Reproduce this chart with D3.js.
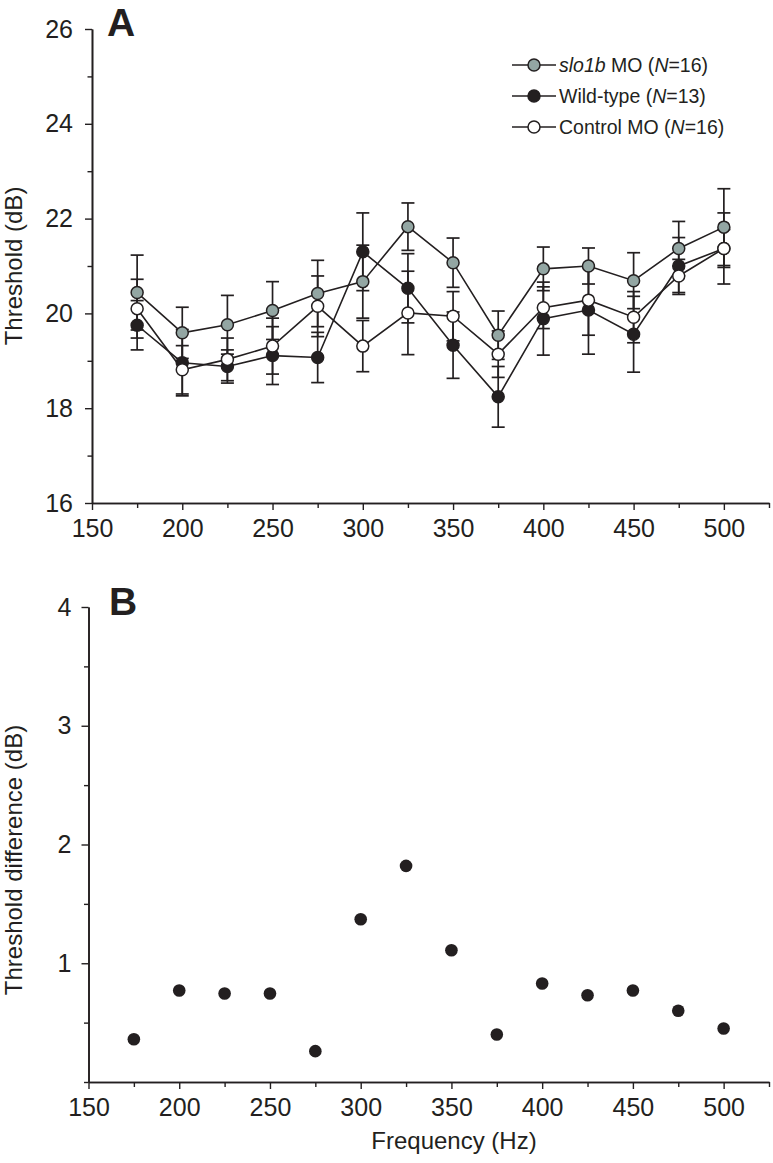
<!DOCTYPE html>
<html><head><meta charset="utf-8">
<script src="https://cdn.jsdelivr.net/npm/d3@7"></script>
<style>
html,body{margin:0;padding:0;background:#fff;}
svg{display:block;font-family:"Liberation Sans",Arial,sans-serif;}
</style></head>
<body>
<svg id="chart" width="773" height="1163"></svg>
<script>
// ---------- data ----------
const freqs      = [175,200,225,250,275,300,325,350,375,400,425,450,475,500];
const slo1b      = [20.44,19.59,19.76,20.06,20.42,20.67,21.83,21.07,19.54,20.94,21.00,20.69,21.37,21.82];
const slo1bSE    = [0.79,0.54,0.62,0.61,0.70,0.77,0.50,0.52,0.51,0.46,0.38,0.59,0.57,0.81];
const wildType   = [19.75,18.96,18.88,19.11,19.07,21.30,20.53,19.33,18.24,19.89,20.07,19.56,21.00,21.37];
const wildTypeSE = [0.52,0.70,0.35,0.61,0.53,0.82,0.73,0.70,0.64,0.77,0.93,0.80,0.60,0.40];
const controlMO  = [20.10,18.81,19.03,19.31,20.15,19.31,20.01,19.94,19.14,20.12,20.28,19.92,20.79,21.37];
const controlSE  = [0.62,0.51,0.45,0.59,0.64,0.54,0.88,0.52,0.49,0.44,0.74,0.54,0.35,0.75];
const thresholdDiff = [0.36,0.77,0.745,0.745,0.26,1.37,1.82,1.11,0.40,0.83,0.73,0.77,0.60,0.45];

const xMajorTicks = [150,200,250,300,350,400,450,500];
const xMinorTicks = [175,225,275,325,375,425,475,525];
const yAMajorTicks = [16,18,20,22,24,26];
const yAMinorTicks = [17,19,21,23,25];
const yBMajorTicks = [1,2,3,4];
const yBMinorTicks = [0,0.5,1.5,2.5,3.5];

const seriesNames = ["slo1b MO", "Wild-type", "Control MO"];
const seriesN = [16,13,16];

// ---------- styles ----------
const INK = "#231f20";
const GRAY = "#93a6a3";
const svg = d3.select("#chart");

function styleAxis(g){
  g.attr("font-size", null).attr("font-family", null);
  g.selectAll("path.domain").attr("stroke", INK).attr("stroke-width", 1.6);
  g.selectAll(".tick line").attr("stroke", INK).attr("stroke-width", 1.4);
  g.selectAll(".tick text").attr("fill", INK).style("font-size", "25px")
    .style("font-family", "'Liberation Sans', Arial, sans-serif");
}

// ---------- Panel A ----------
const xA = d3.scaleLinear().domain([150,525]).range([92,769]);
const yA = d3.scaleLinear().domain([16,26]).range([503,29]);

const gA = svg.append("g");
gA.append("g").attr("transform","translate(0,503)")
  .call(d3.axisBottom(xA).tickValues(xMinorTicks).tickSize(5).tickSizeOuter(0).tickFormat(""))
  .call(styleAxis);
gA.append("g").attr("transform","translate(0,503)")
  .call(d3.axisBottom(xA).tickValues(xMajorTicks).tickSize(7).tickSizeOuter(0).tickPadding(9).tickFormat(d3.format("d")))
  .call(styleAxis);
gA.append("g").attr("transform","translate(92,0)")
  .call(d3.axisLeft(yA).tickValues(yAMinorTicks).tickSize(4.5).tickSizeOuter(0).tickFormat(""))
  .call(styleAxis);
gA.append("g").attr("transform","translate(92,0)")
  .call(d3.axisLeft(yA).tickValues(yAMajorTicks).tickSize(7).tickSizeOuter(0).tickPadding(12).tickFormat(d3.format("d")))
  .call(styleAxis);

gA.append("text").attr("transform","translate(22,266) rotate(-90)")
  .attr("text-anchor","middle").style("font-size","24px").attr("fill",INK)
  .text("Threshold (dB)");
gA.append("text").attr("x",107).attr("y",36).style("font-size","39px")
  .attr("font-weight","bold").attr("fill",INK).text("A");

const series = [
  {name: seriesNames[0], n: seriesN[0], vals: slo1b, se: slo1bSE, fill: GRAY},
  {name: seriesNames[1], n: seriesN[1], vals: wildType, se: wildTypeSE, fill: INK},
  {name: seriesNames[2], n: seriesN[2], vals: controlMO, se: controlSE, fill: "#ffffff"}
];

const capW = 6.5;
series.forEach(s => {
  const g = gA.append("g").attr("stroke", INK).attr("stroke-width", 1.7).attr("fill","none");
  freqs.forEach((f,i) => {
    const x = xA(f), y1 = yA(s.vals[i] + s.se[i]), y2 = yA(s.vals[i] - s.se[i]);
    g.append("line").attr("x1",x).attr("x2",x).attr("y1",y1).attr("y2",y2);
    g.append("line").attr("x1",x-capW).attr("x2",x+capW).attr("y1",y1).attr("y2",y1);
    g.append("line").attr("x1",x-capW).attr("x2",x+capW).attr("y1",y2).attr("y2",y2);
  });
});
const line = d3.line().x((d,i)=>xA(freqs[i])).y(d=>yA(d));
series.forEach(s => {
  gA.append("path").datum(s.vals).attr("d", line)
    .attr("fill","none").attr("stroke", INK).attr("stroke-width",1.6);
});
[series[1], series[2], series[0]].forEach(s => {
  gA.append("g").selectAll("circle").data(s.vals).join("circle")
    .attr("cx",(d,i)=>xA(freqs[i])).attr("cy",d=>yA(d)).attr("r",6)
    .attr("fill", s.fill).attr("stroke", INK).attr("stroke-width",1.5);
});

// legend
const leg = gA.append("g");
series.forEach((s,i) => {
  const cy = 65 + i*31;
  leg.append("line").attr("x1",512).attr("x2",556).attr("y1",cy).attr("y2",cy)
    .attr("stroke",INK).attr("stroke-width",1.6);
  leg.append("circle").attr("cx",534).attr("cy",cy).attr("r",6)
    .attr("fill",s.fill).attr("stroke",INK).attr("stroke-width",1.5);
  const t = leg.append("text").attr("x",559).attr("y",cy+7).style("font-size","19.5px").attr("fill",INK);
  if (i === 0) {
    t.append("tspan").attr("font-style","italic").text("slo1b");
    t.append("tspan").text(" MO (");
  } else {
    t.append("tspan").text(s.name + " (");
  }
  t.append("tspan").attr("font-style","italic").text("N");
  t.append("tspan").text("=" + s.n + ")");
});

// ---------- Panel B ----------
const xB = d3.scaleLinear().domain([150,525]).range([88.5,769]);
const yB = d3.scaleLinear().domain([0,4]).range([1082,607]);
const gB = svg.append("g");
gB.append("g").attr("transform","translate(0,1082)")
  .call(d3.axisBottom(xB).tickValues(xMinorTicks).tickSize(5).tickSizeOuter(0).tickFormat(""))
  .call(styleAxis);
gB.append("g").attr("transform","translate(0,1082)")
  .call(d3.axisBottom(xB).tickValues(xMajorTicks).tickSize(7).tickSizeOuter(0).tickPadding(9).tickFormat(d3.format("d")))
  .call(styleAxis);
gB.append("g").attr("transform","translate(88.5,0)")
  .call(d3.axisLeft(yB).tickValues(yBMinorTicks).tickSize(4.5).tickSizeOuter(0).tickFormat(""))
  .call(styleAxis);
gB.append("g").attr("transform","translate(88.5,0)")
  .call(d3.axisLeft(yB).tickValues(yBMajorTicks).tickSize(7).tickSizeOuter(0).tickPadding(10).tickFormat(d3.format("d")))
  .call(styleAxis);

gB.append("text").attr("transform","translate(22,860) rotate(-90)")
  .attr("text-anchor","middle").style("font-size","24px").attr("fill",INK)
  .text("Threshold difference (dB)");
gB.append("text").attr("x",454).attr("y",1149).attr("text-anchor","middle")
  .style("font-size","24px").attr("fill",INK).text("Frequency (Hz)");
gB.append("text").attr("x",109).attr("y",615).style("font-size","39px")
  .attr("font-weight","bold").attr("fill",INK).text("B");

gB.append("g").selectAll("circle").data(thresholdDiff).join("circle")
  .attr("cx",(d,i)=>xB(freqs[i])).attr("cy",d=>yB(d)).attr("r",6.3)
  .attr("fill",INK);
</script>
</body></html>
